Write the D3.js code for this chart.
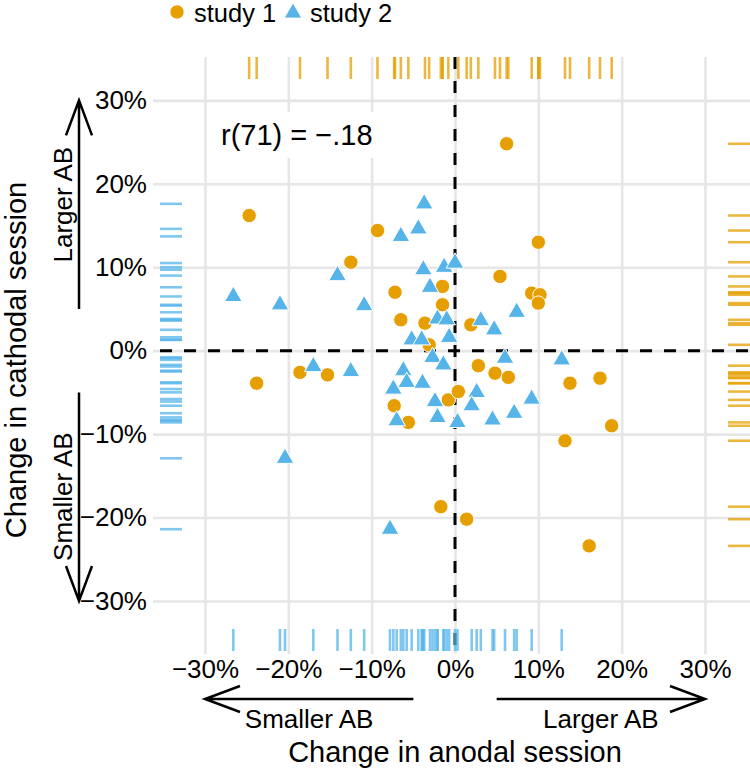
<!DOCTYPE html>
<html>
<head>
<meta charset="utf-8">
<script src="https://cdn.jsdelivr.net/npm/d3@7"></script>
<style>
  body { margin: 0; background: #fff; }
  text { font-family: "Liberation Sans", Arial, Helvetica, sans-serif; }
</style>
</head>
<body>
<div id="chart"></div>
<script>
const svgWidth = 750;
const svgHeight = 770;

// change in AB (%) per participant, study 1
const study1Anodal = [-24.7, -9.3, -12.5, -7.2, -1.5, -1.5, -6.5, -3.6, -3.1, -18.6, -15.3,
  -23.8, -7.3, -0.8, 0.4, 10.0, 5.4, 9.2, 10.2, 10.0, 1.9, 2.8, 4.8, 6.4, 13.8, 17.4,
  -5.6, -1.7, 18.8, 13.2, 1.4, 16.1, 6.2];
const study1Cathodal = [16.2, 14.4, 10.6, 7.0, 7.7, 5.5, 3.7, 3.3, 0.7, -2.6, -2.9,
  -3.9, -6.6, -5.9, -4.9, 13.0, 8.9, 6.9, 6.7, 5.7, 3.1, -1.8, -2.7, -3.2, -3.9, -3.3,
  -8.6, -18.7, -9.0, -10.8, -20.2, -23.4, 24.8];

// study 2
const study2Anodal = [-3.7, -4.4, -6.5, -14.1, -3.8, -1.3, 0.0, -26.6, -21.0, -10.9, -3.0,
  -2.1, -1.0, 3.1, 4.7, 7.4, -5.2, -4.0, -0.7, -2.7, -1.4, 6.0, 12.8, -17.0, -12.5, -6.2,
  -5.8, -3.9, -7.4, 2.6, 9.2, -2.4, 2.0, -2.1, -7.0, 0.3, 4.5, 7.1, -20.4, -7.8];
const study2Cathodal = [17.6, 14.6, 13.7, 9.0, 9.7, 10.0, 10.5, 6.5, 5.5, 5.4, 7.6,
  3.8, 3.7, 3.6, 2.5, 4.6, 1.3, 1.3, 1.6, -0.8, -1.7, -0.9, -1.1, -1.9, -2.5, -2.4,
  -3.8, -3.9, -4.6, -5.0, -5.8, -6.1, -6.6, -8.0, -8.4, -8.6, -8.3, -7.5, -12.9, -21.4];

const tickValues = [-30, -20, -10, 0, 10, 20, 30];
const seriesNames = ["study 1", "study 2"];
const seriesColors = ["#E69F00", "#56B4E9"];
const corrText = "r(71) = \u2212.18";
const arrowStart = 5, arrowEnd = 30;

const panel = { left: 160, right: 750, top: 57, bottom: 651 };

const svg = d3.select("#chart")
    .append("svg")
    .attr("width", svgWidth)
    .attr("height", svgHeight);

const x = d3.scaleLinear().domain([-35.4, 35.4]).range([panel.left, panel.right]);
const y = d3.scaleLinear().domain([-36, 35.2]).range([panel.bottom, panel.top]);
const pct = d => d3.format("d")(d) + "%";

const study1 = study1Anodal.map((v, i) => ({ x: v, y: study1Cathodal[i] }));
const study2 = study2Anodal.map((v, i) => ({ x: v, y: study2Cathodal[i] }));

// grid + tick labels
const xAxis = svg.append("g")
    .attr("transform", `translate(0, ${panel.bottom + 3})`)
    .call(d3.axisBottom(x).tickValues(tickValues).tickFormat(pct)
        .tickSizeInner(-(panel.bottom + 3 - panel.top)).tickSizeOuter(0).tickPadding(6));

const yAxis = svg.append("g")
    .attr("transform", `translate(${panel.left - 7}, 0)`)
    .call(d3.axisLeft(y).tickValues(tickValues).tickFormat(pct)
        .tickSizeInner(-(panel.right - panel.left + 7)).tickSizeOuter(0).tickPadding(6));

[xAxis, yAxis].forEach(g => {
    g.select(".domain").remove();
    g.selectAll(".tick line").attr("stroke", "#e6e6e6").attr("stroke-width", 2.6);
    g.selectAll(".tick text").attr("fill", "#000").attr("font-size", 26)
        .attr("font-family", "Liberation Sans, Arial, sans-serif");
});

// zero lines
svg.append("line")
    .attr("x1", x(0)).attr("x2", x(0))
    .attr("y1", panel.top).attr("y2", panel.bottom)
    .attr("stroke", "#000").attr("stroke-width", 3).attr("stroke-dasharray", "12,12");
svg.append("line")
    .attr("x1", panel.left).attr("x2", panel.right)
    .attr("y1", y(0)).attr("y2", y(0))
    .attr("stroke", "#000").attr("stroke-width", 3).attr("stroke-dasharray", "12,12");

// rugs: study 1 on top/right, study 2 on bottom/left
const rugLen = 22;
const rugs = svg.append("g").attr("stroke-width", 2.6).attr("stroke-opacity", 0.75);
rugs.selectAll(".rug-top").data(study1).enter().append("line")
    .attr("x1", d => x(d.x)).attr("x2", d => x(d.x))
    .attr("y1", panel.top).attr("y2", panel.top + rugLen)
    .attr("stroke", seriesColors[0]);
rugs.selectAll(".rug-right").data(study1).enter().append("line")
    .attr("x1", panel.right - rugLen).attr("x2", panel.right)
    .attr("y1", d => y(d.y)).attr("y2", d => y(d.y))
    .attr("stroke", seriesColors[0]);
rugs.selectAll(".rug-bottom").data(study2).enter().append("line")
    .attr("x1", d => x(d.x)).attr("x2", d => x(d.x))
    .attr("y1", panel.bottom - rugLen).attr("y2", panel.bottom)
    .attr("stroke", seriesColors[1]);
rugs.selectAll(".rug-left").data(study2).enter().append("line")
    .attr("x1", panel.left).attr("x2", panel.left + rugLen)
    .attr("y1", d => y(d.y)).attr("y2", d => y(d.y))
    .attr("stroke", seriesColors[1]);

// correlation label
svg.append("rect")
    .attr("x", 210).attr("y", 112).attr("width", 176).attr("height", 46)
    .attr("rx", 4).attr("fill", "#fff");
svg.append("text")
    .attr("x", 221).attr("y", 145)
    .attr("font-size", 29)
    .text(corrText);

// points
const triangle = d3.symbol().type(d3.symbolTriangle).size(135);
svg.append("g").selectAll("circle")
    .data(study1).enter().append("circle")
    .attr("cx", d => x(d.x)).attr("cy", d => y(d.y))
    .attr("r", 7.2)
    .attr("fill", seriesColors[0]).attr("stroke", "#fff").attr("stroke-width", 1);
svg.append("g").selectAll("path")
    .data(study2).enter().append("path")
    .attr("d", triangle)
    .attr("transform", d => `translate(${x(d.x)}, ${y(d.y)})`)
    .attr("fill", seriesColors[1]).attr("stroke", "#fff").attr("stroke-width", 1);

// direction arrows
function arrow(x1, y1, x2, y2) {
    const a = Math.atan2(y2 - y1, x2 - x1), len = 35, hw = 13;
    const bx = x2 - len * Math.cos(a), by = y2 - len * Math.sin(a);
    const px = -Math.sin(a) * hw, py = Math.cos(a) * hw;
    svg.append("path")
        .attr("d", `M${x1},${y1}L${x2},${y2}M${bx + px},${by + py}L${x2},${y2}L${bx - px},${by - py}`)
        .attr("fill", "none").attr("stroke", "#000").attr("stroke-width", 2.5);
}
const arrowX = 79, arrowY = 699;
arrow(arrowX, y(arrowStart), arrowX, y(arrowEnd));
arrow(arrowX, y(-arrowStart), arrowX, y(-arrowEnd));
arrow(x(-arrowStart), arrowY, x(-arrowEnd), arrowY);
arrow(x(arrowStart), arrowY, x(arrowEnd), arrowY);

const mid = (arrowStart + arrowEnd) / 2;
svg.append("text").attr("font-size", 26).attr("text-anchor", "middle")
    .attr("transform", `translate(72, ${y(mid)}) rotate(-90)`).text("Larger AB");
svg.append("text").attr("font-size", 26).attr("text-anchor", "middle")
    .attr("transform", `translate(72, ${y(-mid)}) rotate(-90)`).text("Smaller AB");
svg.append("text").attr("font-size", 26).attr("text-anchor", "middle")
    .attr("x", x(-mid)).attr("y", arrowY + 29).text("Smaller AB");
svg.append("text").attr("font-size", 26).attr("text-anchor", "middle")
    .attr("x", x(mid)).attr("y", arrowY + 29).text("Larger AB");

// axis titles
svg.append("text").attr("font-size", 29).attr("text-anchor", "middle")
    .attr("x", x(0)).attr("y", 762).text("Change in anodal session");
svg.append("text").attr("font-size", 29).attr("text-anchor", "middle")
    .attr("transform", `translate(26, 360) rotate(-90)`)
    .text("Change in cathodal session");

// legend
const legend = svg.append("g").attr("transform", "translate(177, 12)");
legend.append("circle").attr("cx", 0).attr("cy", 0).attr("r", 7.2)
    .attr("fill", seriesColors[0]).attr("stroke", "#fff");
legend.append("text").attr("x", 17).attr("y", 10).attr("font-size", 25.5).text(seriesNames[0]);
legend.append("path").attr("d", triangle)
    .attr("transform", "translate(116, 1)")
    .attr("fill", seriesColors[1]).attr("stroke", "#fff");
legend.append("text").attr("x", 133).attr("y", 10).attr("font-size", 25.5).text(seriesNames[1]);
</script>
</body>
</html>
